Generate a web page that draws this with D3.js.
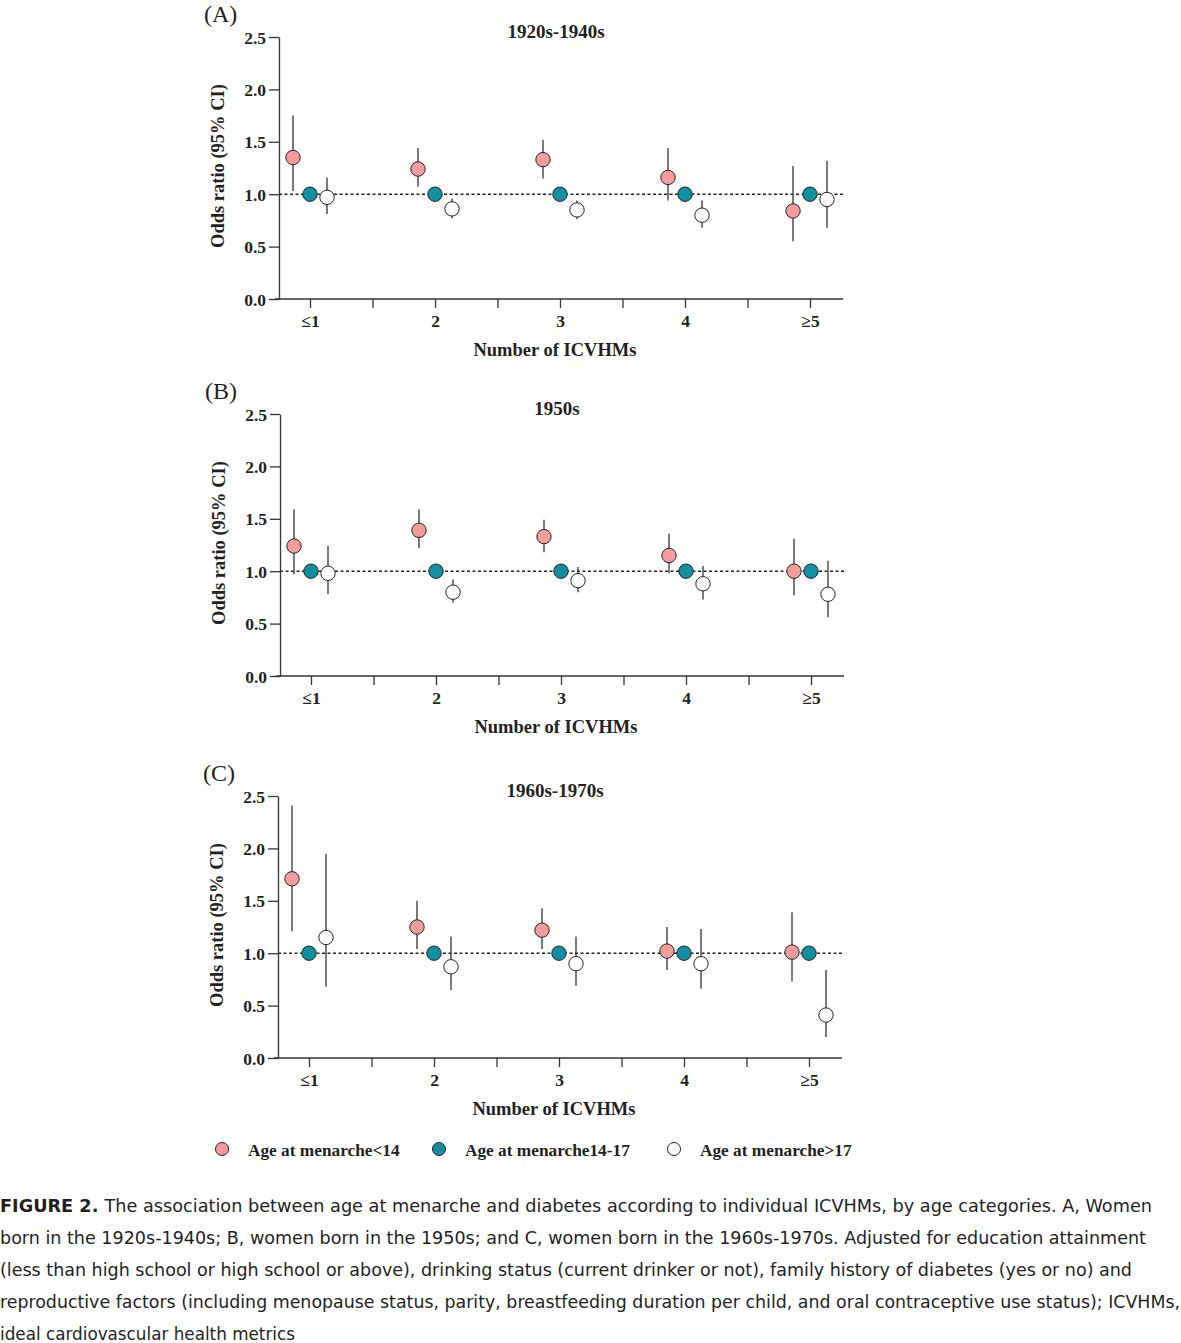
<!DOCTYPE html>
<html><head><meta charset="utf-8">
<script src="https://cdn.jsdelivr.net/npm/d3@7"></script>
<style>body{margin:0;background:#fff}svg{display:block}</style>
</head><body>
<script>
// ---------- DATA ----------
const categories = ["≤1", "2", "3", "4", "≥5"];
const yTicks = [0.0, 0.5, 1.0, 1.5, 2.0, 2.5];
const panelLetters = ["(A)", "(B)", "(C)"];
const panelTitles = ["1920s-1940s", "1950s", "1960s-1970s"];
const seriesNames = ["Age at menarche<14", "Age at menarche14-17", "Age at menarche>17"];

// Panel A (1920s-1940s)
const aEarlyOR = [1.35, 1.24, 1.33, 1.16, 0.84];
const aEarlyLo = [1.03, 1.07, 1.15, 0.94, 0.55];
const aEarlyHi = [1.75, 1.44, 1.52, 1.44, 1.27];
const aRefOR   = [1.0, 1.0, 1.0, 1.0, 1.0];
const aLateOR  = [0.97, 0.86, 0.85, 0.80, 0.95];
const aLateLo  = [0.81, 0.77, 0.76, 0.68, 0.68];
const aLateHi  = [1.16, 0.96, 0.94, 0.94, 1.32];

// Panel B (1950s)
const bEarlyOR = [1.24, 1.39, 1.33, 1.15, 1.00];
const bEarlyLo = [0.97, 1.22, 1.18, 0.98, 0.77];
const bEarlyHi = [1.59, 1.59, 1.49, 1.36, 1.31];
const bRefOR   = [1.0, 1.0, 1.0, 1.0, 1.0];
const bLateOR  = [0.98, 0.80, 0.91, 0.88, 0.78];
const bLateLo  = [0.78, 0.70, 0.80, 0.73, 0.56];
const bLateHi  = [1.24, 0.92, 1.04, 1.05, 1.10];

// Panel C (1960s-1970s)
const cEarlyOR = [1.71, 1.25, 1.22, 1.02, 1.01];
const cEarlyLo = [1.21, 1.04, 1.04, 0.84, 0.73];
const cEarlyHi = [2.41, 1.50, 1.43, 1.25, 1.39];
const cRefOR   = [1.0, 1.0, 1.0, 1.0, 1.0];
const cLateOR  = [1.15, 0.87, 0.90, 0.90, 0.41];
const cLateLo  = [0.68, 0.65, 0.69, 0.66, 0.20];
const cLateHi  = [1.95, 1.16, 1.16, 1.23, 0.84];

const captionLines = [
  "The association between age at menarche and diabetes according to individual ICVHMs, by age categories. A, Women",
  "born in the 1920s-1940s; B, women born in the 1950s; and C, women born in the 1960s-1970s. Adjusted for education attainment",
  "(less than high school or high school or above), drinking status (current drinker or not), family history of diabetes (yes or no) and",
  "reproductive factors (including menopause status, parity, breastfeeding duration per child, and oral contraceptive use status); ICVHMs,",
  "ideal cardiovascular health metrics"
];

// ---------- BUILD ----------
const panels = [
  {early:[aEarlyOR,aEarlyLo,aEarlyHi], ref:aRefOR, late:[aLateOR,aLateLo,aLateHi]},
  {early:[bEarlyOR,bEarlyLo,bEarlyHi], ref:bRefOR, late:[bLateOR,bLateLo,bLateHi]},
  {early:[cEarlyOR,cEarlyLo,cEarlyHi], ref:cRefOR, late:[cLateOR,cLateLo,cLateHi]}
];

const W = 1181, H = 1343;
const colors = ["#f59d9c", "#128fa1", "#ffffff"];
const serif = "'Liberation Serif','Times New Roman',serif";
const ink = "#231f20";

const svg = d3.select("body").append("svg").attr("width", W).attr("height", H);

const panelTop = [37, 414, 796];
const panelXShift = [0, 1, -1];
const plotH = 262;
const offsets = [-17, 0, 17];

panels.forEach((p, pi) => {
  const x0 = 279 + panelXShift[pi];
  const g = svg.append("g").attr("transform", `translate(${x0},${panelTop[pi]})`);
  const innerW = 564;
  const y = d3.scaleLinear().domain([0, 2.5]).range([plotH, 0]);
  const x = d3.scaleLinear().domain([0, 4]).range([31, 31 + 4 * 125]);

  // y axis
  const yAxis = d3.axisLeft(y).tickValues(yTicks).tickFormat(d3.format(".1f")).tickSize(10).tickSizeOuter(0);
  const ya = g.append("g").call(yAxis);
  ya.select(".domain").attr("stroke", "#333").attr("stroke-width", 1.3);
  ya.selectAll(".tick line").attr("stroke", "#333").attr("stroke-width", 1.3);
  ya.selectAll(".tick text").attr("font-family", serif).attr("font-weight", "bold")
    .attr("font-size", 17.5).attr("fill", ink).attr("x", -13).attr("dy", "0.35em");

  // x axis
  const majorTicks = d3.range(0, 4.01, 0.5);
  const xAxis = d3.axisBottom(x).tickValues(majorTicks)
    .tickFormat(d => Number.isInteger(d) ? categories[d] : "").tickSize(9).tickSizeOuter(0);
  const xa = g.append("g").attr("transform", `translate(0,${plotH})`).call(xAxis);
  xa.select(".domain").attr("d", `M-4,0H${innerW}`).attr("stroke", "#333").attr("stroke-width", 1.3);
  xa.selectAll(".tick line").attr("stroke", "#333").attr("stroke-width", 1.3);
  xa.selectAll(".tick text").attr("font-family", serif).attr("font-weight", "bold")
    .attr("font-size", 17.5).attr("fill", ink).attr("y", 16);

  // reference dashed line
  g.append("line").attr("x1", 0).attr("x2", innerW).attr("y1", y(1)).attr("y2", y(1))
    .attr("stroke", "#222").attr("stroke-width", 1.4).attr("stroke-dasharray", "3,2.5");

  // series
  const series = [
    {or:p.early[0], lo:p.early[1], hi:p.early[2]},
    {or:p.ref, lo:null, hi:null},
    {or:p.late[0], lo:p.late[1], hi:p.late[2]}
  ];
  series.forEach((s, si) => {
    const sg = g.append("g");
    if (s.lo) {
      sg.selectAll("line.ci").data(categories).join("line").attr("class", "ci")
        .attr("x1", (d, i) => x(i) + offsets[si]).attr("x2", (d, i) => x(i) + offsets[si])
        .attr("y1", (d, i) => y(s.lo[i])).attr("y2", (d, i) => y(s.hi[i]))
        .attr("stroke", "#333").attr("stroke-width", 1.3);
    }
    sg.selectAll("circle").data(categories).join("circle")
      .attr("cx", (d, i) => x(i) + offsets[si]).attr("cy", (d, i) => y(s.or[i]))
      .attr("r", 7.2).attr("fill", colors[si]).attr("stroke", "#222").attr("stroke-width", 1);
  });

  // titles
  g.append("text").attr("x", 277).attr("y", 1).attr("text-anchor", "middle")
    .attr("font-family", serif).attr("font-weight", "bold").attr("font-size", 19).attr("fill", ink)
    .text(panelTitles[pi]);
  g.append("text").attr("x", -75).attr("y", -15)
    .attr("font-family", serif).attr("font-size", 24).attr("fill", ink).text(panelLetters[pi]);
  g.append("text").attr("transform", `translate(-55,${plotH / 2 - 2}) rotate(-90)`).attr("text-anchor", "middle")
    .attr("font-family", serif).attr("font-weight", "bold").attr("font-size", 18.5).attr("fill", ink)
    .text("Odds ratio (95% CI)");
  g.append("text").attr("x", 276).attr("y", plotH + 57).attr("text-anchor", "middle")
    .attr("font-family", serif).attr("font-weight", "bold").attr("font-size", 18.5).attr("fill", ink)
    .text("Number of ICVHMs");
});

// legend
const legX = [222, 439, 674];
seriesNames.forEach((n, i) => {
  svg.append("circle").attr("cx", legX[i]).attr("cy", 1149).attr("r", 6.5)
    .attr("fill", colors[i]).attr("stroke", "#222").attr("stroke-width", 1);
  svg.append("text").attr("x", legX[i] + 26).attr("y", 1156)
    .attr("font-family", serif).attr("font-weight", "bold").attr("font-size", 17.3).attr("fill", ink).text(n);
});

// caption
const capFont = "'DejaVu Sans Condensed','DejaVu Sans',Verdana,sans-serif";
const capWidths = [1152, 1146, 1132, 1180, 295];
captionLines.forEach((line, i) => {
  const t = svg.append("text").attr("x", 0).attr("y", 1212 + i * 32)
    .attr("font-family", capFont).attr("font-size", 18).attr("fill", "#231f20")
    .attr("textLength", capWidths[i]).attr("lengthAdjust", "spacingAndGlyphs");
  if (i === 0) {
    t.append("tspan").attr("font-weight", "bold").text("FIGURE 2. ");
  }
  t.append("tspan").text(line);
});
</script>
</body></html>
